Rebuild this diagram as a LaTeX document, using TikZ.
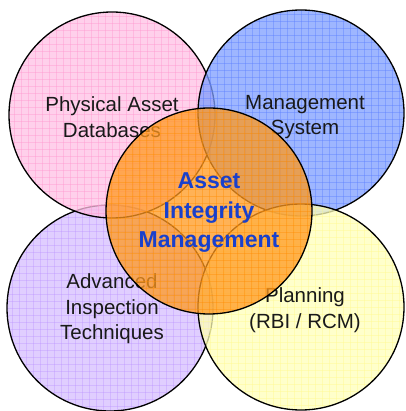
\documentclass[tikz,border=0pt]{standalone}
\usepackage{fontspec}
\setmainfont{Liberation Sans}
\definecolor{pinkF}{RGB}{255,192,228}
\definecolor{pinkL}{RGB}{255,150,205}
\definecolor{blueF}{RGB}{125,158,255}
\definecolor{blueL}{RGB}{90,125,255}
\definecolor{purpF}{RGB}{214,190,255}
\definecolor{purpL}{RGB}{190,150,255}
\definecolor{yellF}{RGB}{255,255,185}
\definecolor{yellL}{RGB}{255,250,140}
\definecolor{oranF}{RGB}{255,152,30}
\definecolor{oranL}{RGB}{255,140,0}
\definecolor{aimBlue}{RGB}{25,64,204}
\begin{document}
\begin{tikzpicture}[x=1pt,y=-1pt,
  bubble/.style n args={3}{circle, minimum size=206pt, inner sep=0pt,
    draw=black, line width=1.3pt, fill=#1, fill opacity=#3,
    path picture={
      \foreach \k in {-15,...,15} {
        \draw[#2, line width=1pt, draw opacity=0.4]
          ([shift={(\k*7pt,-110pt)}]path picture bounding box.center) -- ++(0pt,220pt);
        \draw[#2, line width=1pt, draw opacity=0.4]
          ([shift={(-110pt,\k*7pt)}]path picture bounding box.center) -- ++(220pt,0pt);
      }
    }},
  lbl/.style={align=center, text=black!90, font=\fontsize{20.5}{25.5}\selectfont},
  core/.style={align=center, text=aimBlue, font=\bfseries\fontsize{23}{29.5}\selectfont}
]
\useasboundingbox (0,0) rectangle (405,411);
\node[bubble={purpF}{purpL}{0.75}] (purple) at (110,308) {};
\node[bubble={pinkF}{pinkL}{0.75}] (pink) at (112,115) {};
\node[bubble={blueF}{blueL}{0.75}] (blue) at (301,113) {};
\node[bubble={yellF}{yellL}{0.75}] (yellow) at (301,307) {};
\node[lbl] (tpink) at (112,117) {Physical Asset\\Databases};
\node[lbl] (tblue) at (305,117) {Management\\System};
\node[lbl] (tpurp) at (112,309) {Advanced\\Inspection\\Techniques};
\node[lbl] (tyell) at (305,310) {Planning\\(RBI / RCM)};
\node[bubble={oranF}{oranL}{0.75}] (orange) at (209,211) {};
\node[core] (tcore) at (209,213) {Asset\\Integrity\\Management};
\end{tikzpicture}
\end{document}
